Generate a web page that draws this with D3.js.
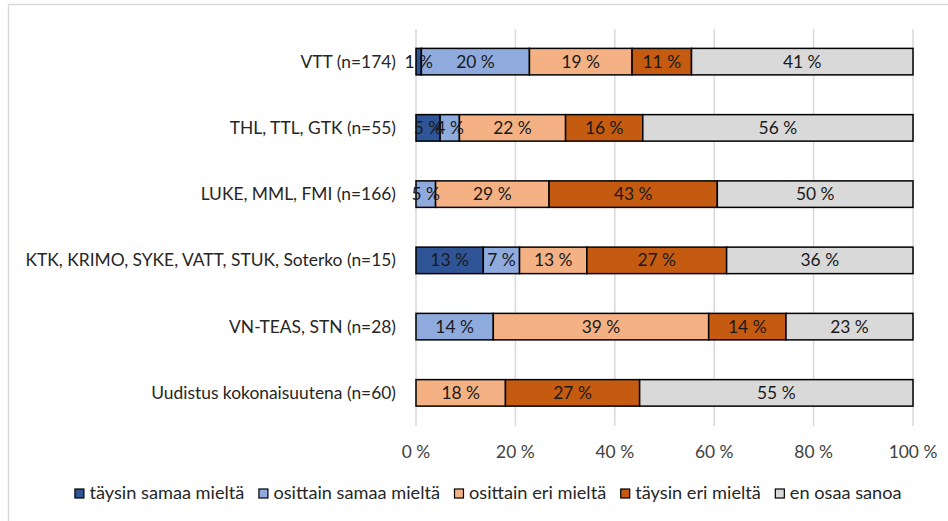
<!DOCTYPE html>
<html>
<head>
<meta charset="utf-8">
<script src="https://cdn.jsdelivr.net/npm/d3@7"></script>
<style>
	body { margin: 0; background: #fff; }
	text { font-family: Lato, "Open Sans", sans-serif; }
</style>
</head>
<body>
<svg></svg>
<script>
// Categories and series
var categories = [
	"VTT (n=174)",
	"THL, TTL, GTK (n=55)",
	"LUKE, MML, FMI (n=166)",
	"KTK, KRIMO, SYKE, VATT, STUK, Soterko (n=15)",
	"VN-TEAS, STN (n=28)",
	"Uudistus kokonaisuutena (n=60)"
];
var seriesNames = ["täysin samaa mieltä", "osittain samaa mieltä", "osittain eri mieltä", "täysin eri mieltä", "en osaa sanoa"];
var seriesColors = ["#2f5597", "#8faadc", "#f4b183", "#c55a11", "#d9d9d9"];

// Values (%) as shown on the bars
var taysinSamaa   = [1, 5, 0, 13, 0, 0];
var osittainSamaa = [20, 4, 5, 7, 14, 0];
var osittainEri   = [19, 22, 29, 13, 39, 18];
var taysinEri     = [11, 16, 43, 27, 14, 27];
var enOsaa        = [41, 56, 50, 36, 23, 55];

var xTicks = [0, 0.2, 0.4, 0.6, 0.8, 1];

var width = 948, height = 521;
var fontSize = "17.4px";

var svg = d3.select("svg")
	.attr("width", width)
	.attr("height", height);

// Chart border
svg.append("rect")
	.attr("x", 8.5)
	.attr("y", 4.5)
	.attr("width", 980)
	.attr("height", 560)
	.attr("fill", "none")
	.attr("stroke", "#d9d9d9")
	.attr("stroke-width", 1.5);

// Build table for stacking
var allSeries = [taysinSamaa, osittainSamaa, osittainEri, taysinEri, enOsaa];
var table = categories.map(function(c, i) {
	var row = { category: c };
	seriesNames.forEach(function(s, j) { row[s] = allSeries[j][i]; });
	return row;
});

// 100% stacked: Excel normalises each row
var stacked = d3.stack()
	.keys(seriesNames)
	.offset(d3.stackOffsetExpand)(table);

var x = d3.scaleLinear()
	.domain([0, 1])
	.range([416, 913]);

var y = d3.scaleBand()
	.domain(categories)
	.range([28.5, 426])
	.paddingInner(0.6)
	.paddingOuter(0.3);

// Gridlines
svg.append("g")
	.selectAll("line")
	.data(xTicks)
	.enter().append("line")
		.attr("x1", function(d) { return x(d); })
		.attr("x2", function(d) { return x(d); })
		.attr("y1", 29)
		.attr("y2", 426)
		.attr("stroke", "#d9d9d9")
		.attr("stroke-width", 1.5);

// X axis labels
svg.append("g")
	.selectAll("text")
	.data(xTicks)
	.enter().append("text")
		.attr("x", function(d) { return x(d); })
		.attr("y", 458)
		.attr("text-anchor", "middle")
		.attr("font-size", fontSize)
		.attr("fill", "#404040")
		.text(function(d) { return Math.round(d * 100) + " %"; });

// Category labels
svg.append("g")
	.selectAll("text")
	.data(categories)
	.enter().append("text")
		.attr("x", 396)
		.attr("y", function(d) { return y(d) + y.bandwidth() / 2; })
		.attr("dy", "0.35em")
		.attr("text-anchor", "end")
		.attr("font-size", fontSize)
		.attr("fill", "#262626")
		.text(function(d) { return d; });

// Bars
var layers = svg.append("g")
	.selectAll("g")
	.data(stacked)
	.enter().append("g")
		.attr("fill", function(d, i) { return seriesColors[i]; });

layers.selectAll("rect")
	.data(function(d) { return d.filter(function(p) { return p.data[d.key] > 0; }); })
	.enter().append("rect")
		.attr("x", function(d) { return x(d[0]); })
		.attr("y", function(d) { return y(d.data.category); })
		.attr("width", function(d) { return x(d[1]) - x(d[0]); })
		.attr("height", y.bandwidth())
		.attr("stroke", "#000")
		.attr("stroke-width", 1.5);

// Data labels
var labels = svg.append("g");
stacked.forEach(function(layer) {
	layer.forEach(function(p) {
		var v = p.data[layer.key];
		if (v <= 0) return;
		labels.append("text")
			.attr("x", (x(p[0]) + x(p[1])) / 2)
			.attr("y", y(p.data.category) + y.bandwidth() / 2)
			.attr("dy", "0.35em")
			.attr("text-anchor", "middle")
			.attr("font-size", fontSize)
			.attr("fill", "#1a1a1a")
			.text(v + " %");
	});
});

// Legend
var legend = svg.append("g");
var lx = 0;
seriesNames.forEach(function(s, i) {
	var item = legend.append("g").attr("transform", "translate(" + lx + ",0)");
	item.append("rect")
		.attr("x", 0.5)
		.attr("y", -10)
		.attr("width", 9)
		.attr("height", 9)
		.attr("fill", seriesColors[i])
		.attr("stroke", "#000")
		.attr("stroke-width", 1.2);
	var t = item.append("text")
		.attr("x", 15)
		.attr("y", 0)
		.attr("font-size", "18.2px")
		.attr("fill", "#262626")
		.text(s);
	lx += 15 + t.node().getComputedTextLength() + 14;
});
lx -= 14;
legend.attr("transform", "translate(" + (488 - lx / 2) + ",499)");
</script>
</body>
</html>
